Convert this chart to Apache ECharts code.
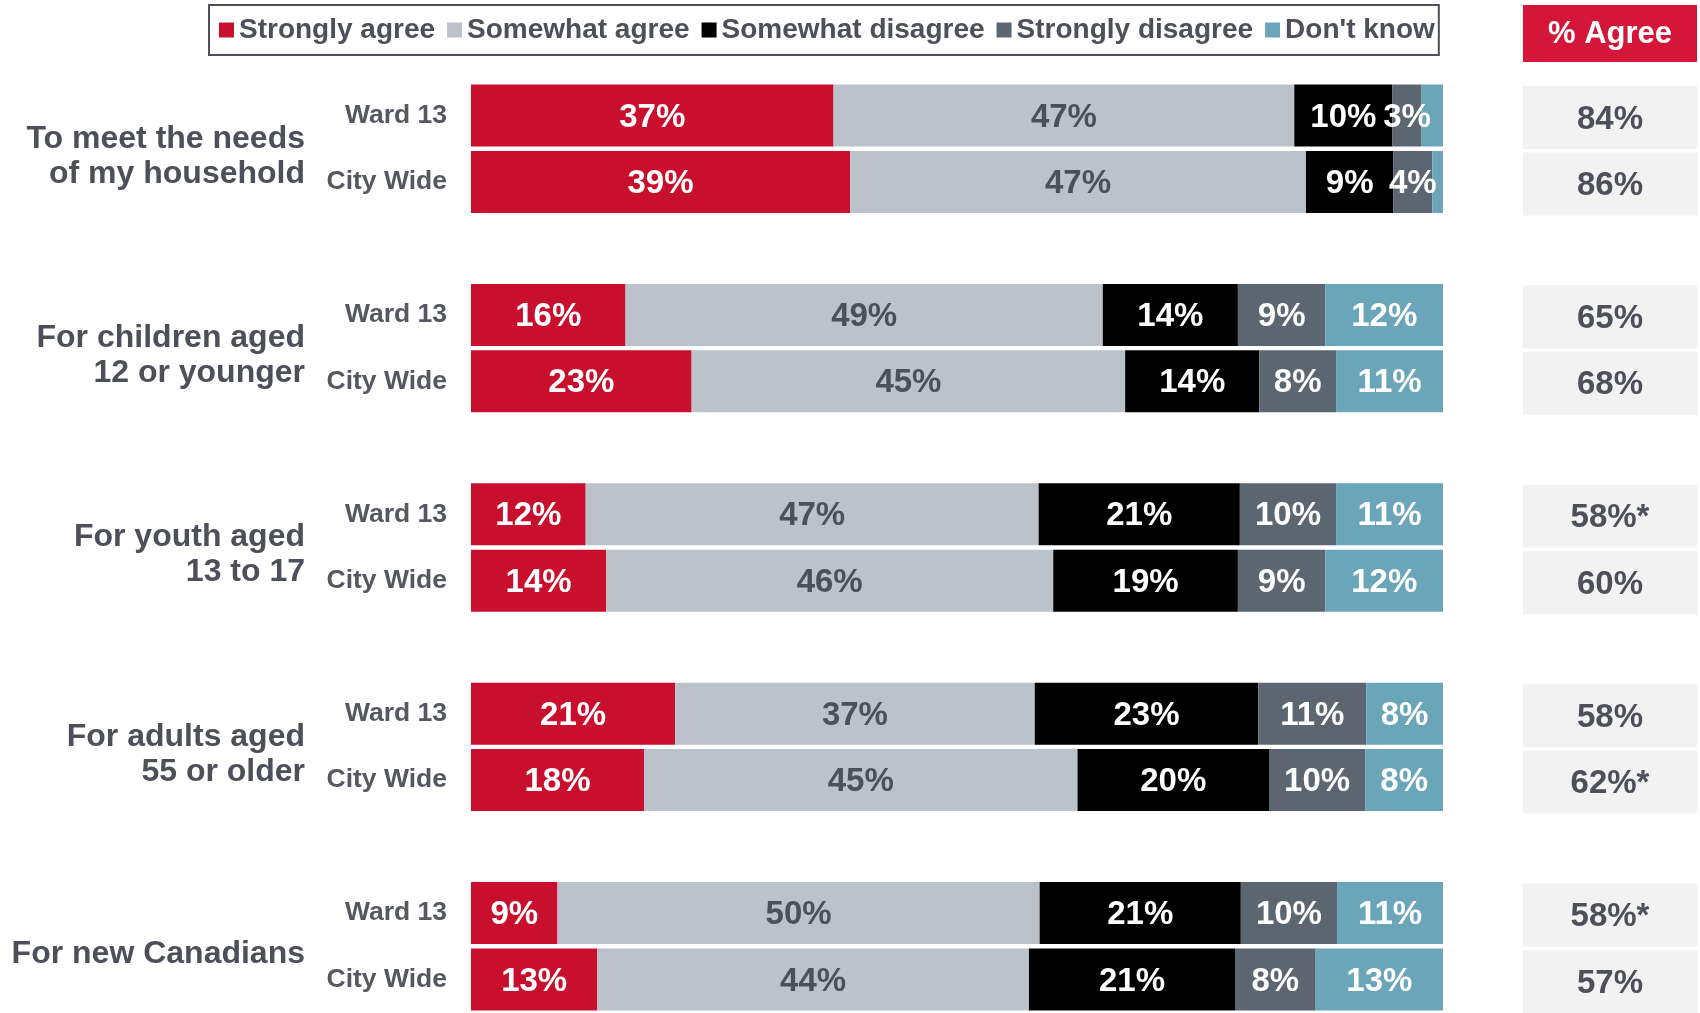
<!DOCTYPE html>
<html>
<head>
<meta charset="utf-8">
<script src="https://cdn.jsdelivr.net/npm/echarts@6/dist/echarts.min.js"></script>
<style>
html,body{margin:0;padding:0;background:#fff;}
#chart{width:1700px;height:1013px;}
</style>
</head>
<body>
<div id="chart"></div>
<script>
// ---- data ----
const groups = ['To meet the needs\nof my household', 'For children aged\n12 or younger', 'For youth aged\n13 to 17', 'For adults aged\n55 or older', 'For new Canadians'];
const rowNames = ['Ward 13', 'City Wide'];
const seriesNames = ['Strongly agree', 'Somewhat agree', 'Somewhat disagree', 'Strongly disagree', "Don't know"];
// rows in order: (group1 Ward, group1 City, group2 Ward, ...)
const stronglyAgree    = [37.3, 39.0, 15.9, 22.7, 11.8, 13.9, 21.0, 17.8, 8.9, 13.0];
const somewhatAgree    = [47.4, 46.9, 49.1, 44.6, 46.6, 46.0, 37.0, 44.6, 49.6, 44.4];
const somewhatDisagree = [10.1, 9.0, 13.9, 13.8, 20.7, 19.0, 23.0, 19.7, 20.7, 21.2];
const stronglyDisagree = [3.0, 4.0, 9.0, 7.9, 9.9, 9.0, 11.1, 9.9, 9.9, 8.3];
const dontKnow         = [2.2, 1.1, 12.1, 11.0, 11.0, 12.1, 7.9, 8.0, 10.9, 13.1];
const agreeLabels = ['84%', '86%', '65%', '68%', '58%*', '60%', '58%', '62%*', '58%*', '57%'];

const colors = ['#C8102E', '#BBC2C9', '#000000', '#5B6670', '#6AA5BA'];
const labelColors = ['#ffffff', '#4D5058', '#ffffff', '#ffffff', '#ffffff'];
const FONT = "'Liberation Sans', Arial, sans-serif";
const TXT = '#4D5058';

// ---- build category axis with spacer slots ----
const cats = [];
const rowIndexToCat = [];
groups.forEach((g, gi) => {
  rowNames.forEach((r, ri) => { rowIndexToCat.push(cats.length); cats.push('r' + gi + '_' + ri); });
  if (gi < groups.length - 1) cats.push('s' + gi);
});
function spread(arr) {
  const out = cats.map(() => '-');
  arr.forEach((v, i) => { out[rowIndexToCat[i]] = v; });
  return out;
}
const allVals = [stronglyAgree, somewhatAgree, somewhatDisagree, stronglyDisagree, dontKnow];

const chart = echarts.init(document.getElementById('chart'));
const series = allVals.map((arr, si) => ({
  name: seriesNames[si],
  type: 'bar',
  stack: 'total',
  xAxisIndex: 0, yAxisIndex: 0,
  barWidth: 62,
  itemStyle: { color: colors[si] },
  label: {
    show: true,
    position: 'inside',
    offset: [0, 2],
    color: labelColors[si],
    fontFamily: FONT,
    fontWeight: 'bold',
    fontSize: 33,
    formatter: p => (p.value >= 2.5 ? Math.round(p.value) + '%' : '')
  },
  data: spread(arr)
}));
series.push({
  name: 'agree',
  type: 'bar',
  xAxisIndex: 1, yAxisIndex: 1,
  barWidth: 63,
  silent: true,
  itemStyle: { color: '#F2F2F2' },
  label: {
    show: true, position: 'inside', offset: [0, 2], color: TXT, fontFamily: FONT, fontWeight: 'bold', fontSize: 33,
    formatter: p => agreeLabels[rowIndexToCat.indexOf(p.dataIndex)]
  },
  data: spread(agreeLabels.map(() => 1))
});

const gridTop = 82.3, gridH = 930.4;
chart.setOption({
  animation: false,
  backgroundColor: '#ffffff',
  textStyle: { fontFamily: FONT },
  color: colors,
  legend: {
    data: seriesNames,
    left: 209, top: 5,
    icon: 'rect',
    itemWidth: 15, itemHeight: 15, itemGap: 12,
    borderColor: '#4D5058', borderWidth: 2,
    padding: [10, 4, 10, 10],
    textStyle: { fontFamily: FONT, fontWeight: 'bold', fontSize: 28, color: TXT, lineHeight: 30 },
    selectedMode: false
  },
  grid: [
    { left: 471, width: 972, top: gridTop, height: gridH, outerBoundsMode: 'none' },
    { left: 1523, width: 174, top: gridTop + 2, height: gridH, outerBoundsMode: 'none' }
  ],
  xAxis: [
    { type: 'value', gridIndex: 0, min: 0, max: 100, show: false },
    { type: 'value', gridIndex: 1, min: 0, max: 1, show: false }
  ],
  yAxis: [
    {
      type: 'category', gridIndex: 0, inverse: true, data: cats,
      axisLine: { show: false }, axisTick: { show: false }, splitLine: { show: false },
      axisLabel: {
        margin: 24, fontFamily: FONT, fontWeight: 'bold', fontSize: 26.5, color: '#55585F',
        interval: 0,
        formatter: v => v[0] === 'r' ? rowNames[+v.split('_')[1]] : ''
      }
    },
    {
      type: 'category', gridIndex: 1, inverse: true, data: cats, show: false
    }
  ],
  series: series
});

// group labels and header via graphic, positioned with axis scale
const graphics = [];
groups.forEach((g, gi) => {
  const yW = chart.convertToPixel({ yAxisIndex: 0 }, cats[rowIndexToCat[gi * 2]]);
  const yC = chart.convertToPixel({ yAxisIndex: 0 }, cats[rowIndexToCat[gi * 2 + 1]]);
  graphics.push({
    type: 'text', x: 305, y: (yW + yC) / 2 + 7.5,
    style: { text: g, fill: TXT, font: "bold 32px " + FONT, textAlign: 'right', textVerticalAlign: 'middle', lineHeight: 35 }
  });
});
graphics.push({ type: 'rect', shape: { x: 1523, y: 5, width: 174, height: 57 }, style: { fill: '#D4163A' } });
graphics.push({
  type: 'text', x: 1610, y: 34,
  style: { text: '% Agree', fill: '#ffffff', font: "bold 31px " + FONT, textAlign: 'center', textVerticalAlign: 'middle' }
});
chart.setOption({ graphic: graphics });
</script>
</body>
</html>
